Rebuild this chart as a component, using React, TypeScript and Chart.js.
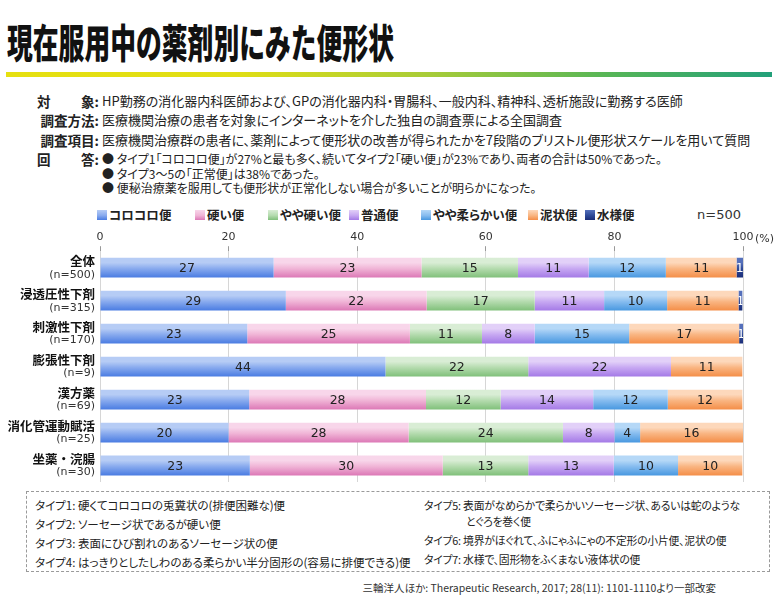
import React, { useEffect, useRef } from "react";
import { Chart, registerables } from "chart.js";

Chart.register(...registerables);

const categories = ["全体", "浸透圧性下剤", "刺激性下剤", "膨張性下剤", "漢方薬", "消化管運動賦活", "坐薬・浣腸"];
const sampleSizes = ["(n=500)", "(n=315)", "(n=170)", "(n=9)", "(n=69)", "(n=25)", "(n=30)"];
const seriesNames = ["コロコロ便", "硬い便", "やや硬い便", "普通便", "やや柔らかい便", "泥状便", "水様便"];
const type1 = [27.0, 28.9, 22.9, 44.4, 23.2, 20, 23.3];
const type2 = [23.0, 21.9, 25.3, 0, 27.5, 28, 30];
const type3 = [15.0, 16.8, 11.2, 22.2, 11.6, 24, 13.3];
const type4 = [11.0, 10.8, 8.2, 22.2, 14.4, 8, 13.3];
const type5 = [12.0, 9.8, 14.7, 0, 11.6, 4, 10];
const type6 = [11.0, 11.1, 17.1, 11.1, 11.6, 16, 10];
const type7 = [1.0, 0.6, 0.6, 0, 0, 0, 0];
const seriesValues = [type1, type2, type3, type4, type5, type6, type7];
const xTicks = [0, 20, 40, 60, 80, 100];
const totalN = "n=500";

const colorTop = ["#b6ccf5", "#f8d6ea", "#d9edd5", "#e2d0f8", "#b5d8f7", "#fdd8bb", "#5570bb"];
const colorMid = ["#88aaee", "#f0b4d6", "#b4dbae", "#c7a8f2", "#86bcef", "#f9b582", "#2f4a98"];
const colorBot = ["#4a7ce2", "#dc78b6", "#80c07a", "#a47ae6", "#4898e0", "#f48e48", "#1b2d78"];

const legendX = [97, 195, 268, 349, 421, 528, 585];

const FONT_JP = '"Noto Sans CJK JP", "Noto Sans", sans-serif';

function makeGrad(ctx: any, i: number) {
  const chart = ctx.chart;
  const ys = chart.scales && chart.scales.y;
  if (!ys || ctx.dataIndex === undefined || !chart.chartArea) return colorMid[i];
  const cy = ys.getPixelForValue(ctx.dataIndex);
  const h = (ys.height / categories.length) * 0.6;
  const g = chart.ctx.createLinearGradient(0, cy - h / 2, 0, cy + h / 2);
  g.addColorStop(0, colorTop[i]);
  g.addColorStop(0.25, colorTop[i]);
  g.addColorStop(0.55, colorMid[i]);
  g.addColorStop(1, colorBot[i]);
  return g;
}

const labelPlugin = {
  id: "barLabels",
  afterDatasetsDraw(chart: any) {
    const ctx = chart.ctx;
    chart.data.datasets.forEach((ds: any, di: number) => {
      const meta = chart.getDatasetMeta(di);
      meta.data.forEach((el: any, idx: number) => {
        const v = ds.data[idx];
        if (!v) return;
        const p = el.getProps(["x", "base", "y", "height"], true);
        const left = Math.min(p.x, p.base);
        const right = Math.max(p.x, p.base);
        ctx.save();
        ctx.beginPath();
        ctx.rect(left, p.y - p.height / 2, right - left, p.height);
        ctx.clip();
        ctx.fillStyle = di === 6 ? "#ffffff" : "#222222";
        ctx.font = '12.5px "DejaVu Sans"';
        ctx.textAlign = "center";
        ctx.textBaseline = "middle";
        ctx.fillText(String(Math.round(v)), (left + right) / 2, p.y + 1);
        ctx.restore();
      });
    });
  },
  afterDraw(chart: any) {
    const ctx = chart.ctx;
    const ys = chart.scales.y;
    const xs = chart.scales.x;
    ctx.save();
    ctx.textAlign = "right";
    ctx.textBaseline = "middle";
    categories.forEach((c, i) => {
      const cy = ys.getPixelForValue(i);
      ctx.fillStyle = "#111";
      ctx.font = `bold 12.5px ${FONT_JP}`;
      ctx.fillText(c, 95, cy - 6);
      ctx.fillStyle = "#333";
      ctx.font = '11px "DejaVu Sans"';
      ctx.fillText(sampleSizes[i], 95, cy + 7);
    });
    ctx.textAlign = "left";
    ctx.textBaseline = "bottom";
    ctx.fillStyle = "#333";
    ctx.font = '11px "DejaVu Sans"';
    ctx.fillText("(%)", xs.getPixelForValue(100) + 12, xs.bottom - 7);
    ctx.restore();
  },
};

export default function App() {
  const ref = useRef<HTMLCanvasElement | null>(null);
  useEffect(() => {
    if (!ref.current) return;
    const chart = new Chart(ref.current, {
      type: "bar",
      data: {
        labels: categories,
        datasets: seriesValues.map((d, i) => ({
          label: seriesNames[i],
          data: d,
          backgroundColor: (ctx: any) => makeGrad(ctx, i),
          borderWidth: 0,
          barPercentage: 0.6,
          categoryPercentage: 1,
        })),
      },
      options: {
        indexAxis: "y",
        animation: false,
        responsive: false,
        maintainAspectRatio: false,
        layout: { padding: { left: 100, right: 37, top: 4, bottom: 0 } },
        plugins: { legend: { display: false }, tooltip: { enabled: false } },
        scales: {
          x: {
            position: "top",
            stacked: true,
            min: 0,
            max: 100,
            afterBuildTicks: (s: any) => {
              s.ticks = xTicks.map((v) => ({ value: v }));
            },
            ticks: {
              font: { family: "DejaVu Sans", size: 11 },
              color: "#333",
              padding: 2,
              maxRotation: 0,
              autoSkip: false,
            },
            grid: { color: "#d6d6d6", tickColor: "#999", tickLength: 5, lineWidth: 1 },
            border: { display: false },
          },
          y: { stacked: true, display: false },
        },
      } as any,
      plugins: [labelPlugin],
    });
    return () => chart.destroy();
  }, []);

  const base: React.CSSProperties = {
    position: "absolute",
    fontFamily: FONT_JP,
    fontFeatureSettings: '"palt"',
    color: "#222",
    whiteSpace: "nowrap",
  };
  const line = (top: number, size: number, lh = 16): React.CSSProperties => ({
    ...base,
    top: top - lh / 2,
    fontSize: size,
    lineHeight: `${lh}px`,
  });

  return (
    <div style={{ position: "fixed", left: 0, top: 0, width: 780, height: 603, background: "#fff", overflow: "hidden" }}>
      <div style={{ ...line(41, 40, 46), left: 7, fontWeight: 900, color: "#111", transform: "scaleX(0.645)", transformOrigin: "left center", fontFeatureSettings: "normal" }}>
        現在服用中の薬剤別にみた便形状
      </div>
      <div style={{ position: "absolute", left: 6, top: 72, width: 766, height: 5, background: "linear-gradient(to right, #e6e010 0%, #e0de14 30%, #a8cc38 55%, #58b656 78%, #22a07a 100%)" }} />

      <div style={{ ...line(101, 13.5), left: 37, fontWeight: 700 }}>対</div>
      <div style={{ ...line(101, 13.5), right: 780 - 99, fontWeight: 700 }}>象:</div>
      <div style={{ ...line(101, 13), left: 102 }}>HP勤務の消化器内科医師および、GPの消化器内科・胃腸科、一般内科、精神科、透析施設に勤務する医師</div>

      <div style={{ ...line(120, 13.5), right: 780 - 99, fontWeight: 700 }}>調査方法:</div>
      <div style={{ ...line(120, 13), left: 102 }}>医療機関治療の患者を対象にインターネットを介した独自の調査票による全国調査</div>

      <div style={{ ...line(140, 13.5), right: 780 - 99, fontWeight: 700 }}>調査項目:</div>
      <div style={{ ...line(140, 13), left: 102 }}>医療機関治療群の患者に、薬剤によって便形状の改善が得られたかを7段階のブリストル便形状スケールを用いて質問</div>

      <div style={{ ...line(159, 13.5), left: 37, fontWeight: 700 }}>回</div>
      <div style={{ ...line(159, 13.5), right: 780 - 99, fontWeight: 700 }}>答:</div>
      <div style={{ ...line(159, 12), left: 102 }}>● タイプ1「コロコロ便」が27%と最も多く、続いてタイプ2「硬い便」が23%であり、両者の合計は50%であった。</div>
      <div style={{ ...line(174, 12), left: 102 }}>● タイプ3～5の「正常便」は38%であった。</div>
      <div style={{ ...line(188, 12), left: 102 }}>● 便秘治療薬を服用しても便形状が正常化しない場合が多いことが明らかになった。</div>

      {seriesNames.map((n, i) => (
        <React.Fragment key={n}>
          <div style={{ position: "absolute", left: legendX[i], top: 210, width: 10, height: 10, background: `linear-gradient(to bottom, ${colorTop[i]}, ${colorMid[i]} 55%, ${colorBot[i]})` }} />
          <div style={{ ...line(215, 12.5), left: legendX[i] + 12, fontWeight: 700, color: "#222" }}>{n}</div>
        </React.Fragment>
      ))}
      <div style={{ ...line(215, 13), left: 697, fontFamily: '"DejaVu Sans"', color: "#333" }}>{totalN}</div>

      <canvas ref={ref} width={780} height={257} style={{ position: "absolute", left: 0, top: 225, width: 780, height: 257 }} />

      <div style={{ position: "absolute", left: 26, top: 491, width: 744, height: 81, border: "1px dashed #9a9a9a", boxSizing: "border-box" }} />
      <div style={{ ...line(505, 11.5), left: 35 }}>タイプ1: 硬くてコロコロの兎糞状の(排便困難な)便</div>
      <div style={{ ...line(524, 11.5), left: 35 }}>タイプ2: ソーセージ状であるが硬い便</div>
      <div style={{ ...line(543, 11.5), left: 35 }}>タイプ3: 表面にひび割れのあるソーセージ状の便</div>
      <div style={{ ...line(562, 11.5), left: 35 }}>タイプ4: はっきりとしたしわのある柔らかい半分固形の(容易に排便できる)便</div>
      <div style={{ ...line(505, 10.8), left: 424, letterSpacing: "-0.2px" }}>タイプ5: 表面がなめらかで柔らかいソーセージ状、あるいは蛇のような</div>
      <div style={{ ...line(521, 10.8), left: 466, letterSpacing: "-0.2px" }}>とぐろを巻く便</div>
      <div style={{ ...line(540, 10.8), left: 424, letterSpacing: "-0.2px" }}>タイプ6: 境界がほぐれて、ふにゃふにゃの不定形の小片便、泥状の便</div>
      <div style={{ ...line(559, 10.8), left: 424, letterSpacing: "-0.2px" }}>タイプ7: 水様で、固形物をふくまない液体状の便</div>

      <div style={{ ...line(588, 10.5), right: 780 - 716, color: "#333" }}>三輪洋人ほか: Therapeutic Research, 2017; 28(11): 1101-1110より一部改変</div>
    </div>
  );
}
